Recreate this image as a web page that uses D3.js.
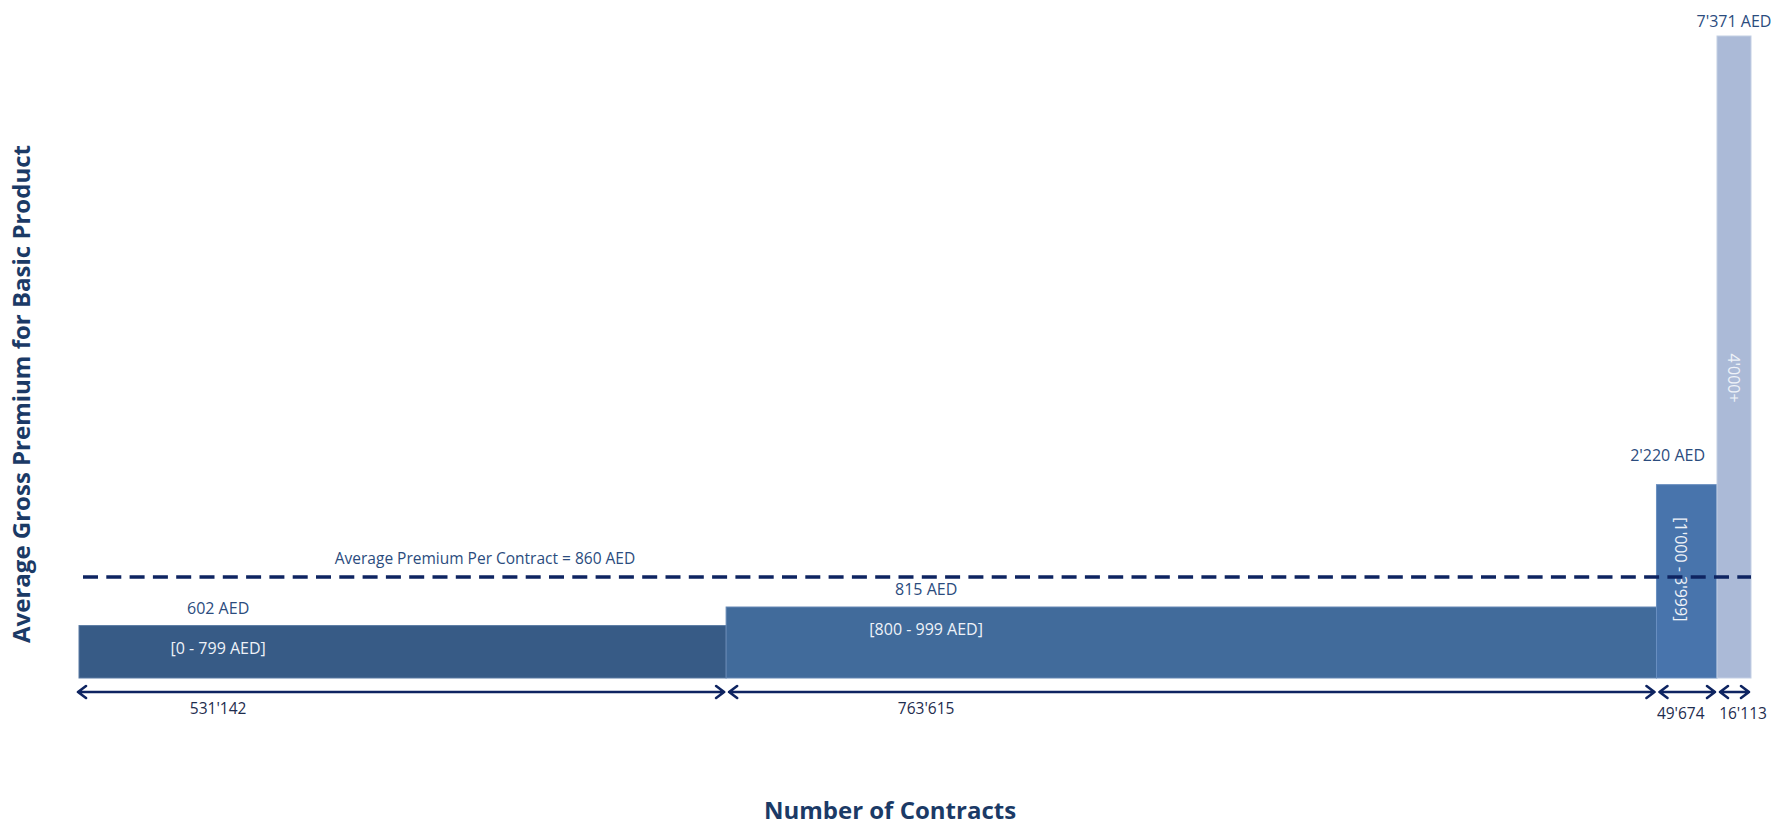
<!DOCTYPE html>
<html>
<head>
<meta charset="utf-8">
<script src="https://cdn.jsdelivr.net/npm/d3@7"></script>
<style>
  html, body { margin: 0; padding: 0; background: #ffffff; }
  svg { display: block; font-family: "Open Sans", "Noto Sans", sans-serif; }
</style>
</head>
<body>
<svg id="chart" width="1777" height="828"></svg>
<script>
// ---------- data ----------
const categories = ["[0 - 799 AED]", "[800 - 999 AED]", "[1'000 - 3'999]", "4'000+"];
const avgPremium = [602, 815, 2220, 7371];          // AED, bar height
const contracts = [531142, 763615, 49674, 16113];   // number of contracts, bar width
const overallAverage = 860;                          // AED
const yTitle = "Average Gross Premium for Basic Product";
const xTitle = "Number of Contracts";

(function () {
// ---------- styles ----------
const barColors = ["#375B86", "#416B9B", "#4874AC", "#ABBAD7"];
const barStroke = ["#5A7BA3", "#6487B3", "#6A8FC0", "#C3CFE4"];
const navy = "#0E2461";
const labelBlue = "#2B4C7E";
const titleBlue = "#1B3A66";
const countColor = "#1E2C4E";

const fmt = d3.formatLocale({ decimal: ".", thousands: "'", grouping: [3], currency: ["", ""] }).format(",d");

const svg = d3.select("#chart");
const plotLeft = 79, plotRight = 1751, plotTop = 36, baseY = 678;
const minBarWidth = 34;      // keeps the tiny last segment visible
const avgLineLift = 26;      // average line is drawn clear above the bars
const arrowY = 692;

// ---------- scales ----------
const total = d3.sum(contracts);
const plotW = plotRight - plotLeft;
const small = contracts.map(c => c / total * plotW < minBarWidth);
const bigTotal = d3.sum(contracts.filter((c, i) => !small[i]));
const wScale = d3.scaleLinear()
  .domain([0, bigTotal])
  .range([0, plotW - minBarWidth * small.filter(Boolean).length]);
const widths = contracts.map((c, i) => small[i] ? minBarWidth : wScale(c));
const x0 = [];
widths.reduce((acc, w, i) => { x0[i] = plotLeft + acc; return acc + w; }, 0);

const y = d3.scaleLinear().domain([0, d3.max(avgPremium)]).range([baseY, plotTop]);

const bars = categories.map((c, i) => ({
  cat: c, v: avgPremium[i], n: contracts[i],
  x0: x0[i], x1: x0[i] + widths[i], w: widths[i], i,
  wide: widths[i] > 200
}));

// ---------- bars ----------
svg.append("g").selectAll("rect").data(bars).join("rect")
  .attr("x", d => d.x0)
  .attr("y", d => y(d.v))
  .attr("width", d => d.w)
  .attr("height", d => baseY - y(d.v))
  .attr("fill", d => barColors[d.i])
  .attr("stroke", d => barStroke[d.i])
  .attr("stroke-width", 1);

// value labels above bars
svg.append("g").selectAll("text").data(bars).join("text")
  .attr("x", d => d.wide ? d.x0 + d.w * 0.215 : (d.i === 2 ? d.x1 - 12 : d.x0 + d.w / 2))
  .attr("y", d => y(d.v) - (d.wide ? 12 : (d.i === 2 ? 24 : 9)))
  .attr("text-anchor", d => (!d.wide && d.i === 2) ? "end" : "middle")
  .attr("font-size", 16)
  .attr("fill", labelBlue)
  .text(d => fmt(d.v) + " AED");

// category labels inside bars
svg.append("g").selectAll("text").data(bars).join("text")
  .attr("transform", d => d.wide
    ? `translate(${d.x0 + d.w * 0.215},${y(d.v) + 28})`
    : `translate(${d.x0 + d.w / 2 - (d.i === 2 ? 6 : 0)},${d.i === 2 ? (y(d.v) + baseY) / 2 - 12 : (y(d.v) + baseY) / 2 + 21}) rotate(90)`)
  .attr("dy", d => d.wide ? 0 : "0.35em")
  .attr("text-anchor", "middle")
  .attr("font-size", 16)
  .attr("fill", "#EEF2F8")
  .text(d => d.cat);

// ---------- average line ----------
const avgY = y(overallAverage) - avgLineLift;
svg.append("line")
  .attr("x1", plotLeft + 4).attr("x2", plotRight)
  .attr("y1", avgY).attr("y2", avgY)
  .attr("stroke", navy)
  .attr("stroke-width", 3.5)
  .attr("stroke-dasharray", "15 8.3");
svg.append("text")
  .attr("x", 485).attr("y", avgY - 13)
  .attr("text-anchor", "middle")
  .attr("font-size", 15.5)
  .attr("fill", labelBlue)
  .text(`Average Premium Per Contract = ${fmt(overallAverage)} AED`);

// ---------- width arrows ----------
const head = 8, half = 6;
svg.append("g").selectAll("path").data(bars).join("path")
  .attr("d", d => {
    const a = d.x0 + (d.i === 0 ? -1 : 3), b = d.x1 - 2;
    return `M${a},${arrowY}L${b},${arrowY}` +
      `M${a + head},${arrowY - half}L${a},${arrowY}L${a + head},${arrowY + half}` +
      `M${b - head},${arrowY - half}L${b},${arrowY}L${b - head},${arrowY + half}`;
  })
  .attr("fill", "none")
  .attr("stroke", navy)
  .attr("stroke-width", 2.6)
  .attr("stroke-linecap", "round")
  .attr("stroke-linejoin", "round");

svg.append("g").selectAll("text").data(bars).join("text")
  .attr("x", d => d.wide ? d.x0 + d.w * 0.215 : d.x0 + d.w / 2 + (d.i === 3 ? 9 : -6))
  .attr("y", d => d.wide ? 714 : 719)
  .attr("text-anchor", "middle")
  .attr("font-size", 15.5)
  .attr("fill", countColor)
  .text(d => fmt(d.n));

// ---------- axis titles ----------
svg.append("text")
  .attr("x", 890).attr("y", 819)
  .attr("text-anchor", "middle")
  .attr("font-size", 24)
  .attr("font-weight", 700)
  .attr("fill", titleBlue)
  .text(xTitle);

svg.append("text")
  .attr("transform", "translate(30,394) rotate(-90)")
  .attr("text-anchor", "middle")
  .attr("font-size", 24)
  .attr("font-weight", 700)
  .attr("fill", titleBlue)
  .text(yTitle);
})();
</script>
</body>
</html>
